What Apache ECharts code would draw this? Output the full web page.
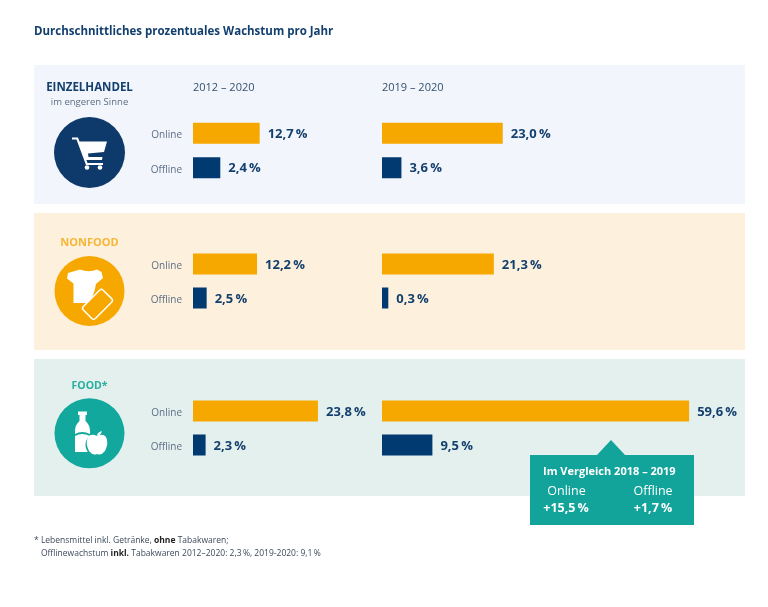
<!DOCTYPE html>
<html><head><meta charset="utf-8">
<style>html,body{margin:0;padding:0;background:#fff}#c{width:768px;height:607px}</style>
<script src="https://cdn.jsdelivr.net/npm/echarts@6/dist/echarts.min.js"></script>
</head><body><div id="c"></div>
<script>
const categories = ['Online', 'Offline'];
const periods = ['2012 – 2020', '2019 – 2020'];
const segments = ['EINZELHANDEL', 'NONFOOD', 'FOOD*'];
// Printed percentages
const labelsEinzelhandel = [['12,7\u2009%', '2,4\u2009%'], ['23,0\u2009%', '3,6\u2009%']];
const labelsNonfood = [['12,2\u2009%', '2,5\u2009%'], ['21,3\u2009%', '0,3\u2009%']];
const labelsFood = [['23,8\u2009%', '2,3\u2009%'], ['59,6\u2009%', '9,5\u2009%']];
// Bar lengths as drawn in the picture (the offline bars are not all drawn to their printed value)
const barsEinzelhandel = [[12.7, 5.2], [23.0, 3.7]];
const barsNonfood = [[12.2, 2.6], [21.3, 1.2]];
const barsFood = [[23.8, 2.4], [58.5, 9.6]];

const NAVY = '#003a70', ORANGE = '#f6a800', TEAL = '#12a49b', INK = '#14406e', GREY = '#5d6f86';
const FONT = '"Open Sans","Noto Sans",sans-serif';
const PX_PER_UNIT = 5.25, AXIS_MAX = 62;
const columns = [193, 382];
const rowTops = [116, 247, 394];
const rowHeights = [69, 68, 68];
const allBars = [barsEinzelhandel, barsNonfood, barsFood];
const allLabels = [labelsEinzelhandel, labelsNonfood, labelsFood];

const grid = [], xAxis = [], yAxis = [], series = [];
rowTops.forEach((top, r) => columns.forEach((left, c) => {
  const i = grid.length;
  grid.push({ left, top, width: AXIS_MAX * PX_PER_UNIT, height: rowHeights[r] });
  xAxis.push({ gridIndex: i, type: 'value', min: 0, max: AXIS_MAX, show: false });
  yAxis.push({
    gridIndex: i, type: 'category', inverse: true, data: categories, z: 4,
    axisLine: { show: false }, axisTick: { show: false },
    axisLabel: {
      show: c === 0, margin: 11, formatter: '{a|{value}}',
      rich: { a: { fontSize: 10, color: GREY, fontFamily: FONT, padding: [4, 0, 0, 0] } }
    }
  });
  series.push({
    type: 'bar', xAxisIndex: i, yAxisIndex: i, barWidth: 21, silent: true,
    data: allBars[r][c].map((v, k) => ({ value: v, itemStyle: { color: k === 0 ? ORANGE : NAVY } })),
    label: {
      show: true, position: 'right', distance: 8, offset: [0, 1], color: INK, fontFamily: FONT,
      fontWeight: 'bold', fontSize: 13,
      formatter: p => allLabels[r][c][p.dataIndex]
    }
  });
}));

const txt = (x, y, text, o = {}) => ({
  type: 'text', x, y: y + 1, z: 8,
  style: Object.assign({ text, fill: INK, fontFamily: FONT, fontSize: 11, verticalAlign: 'middle' }, o)
});
const rect = (x, y, width, height, fill, z = 1) => ({ type: 'rect', z, shape: { x, y, width, height }, style: { fill } });
const circle = (cx, cy, r, fill, z = 2) => ({ type: 'circle', z, shape: { cx, cy, r }, style: { fill } });
let shapeCount = 0;
const path = (d, style, z = 3) => {
  const name = 'iconShape' + (shapeCount++);
  echarts.graphic.registerShape(name, echarts.graphic.extendPath(d, {}));
  return { type: name, z, style };
};
const W = '#fff';

const graphic = [
  rect(34, 65, 711, 139, '#f2f5fb'),
  rect(34, 213, 711, 137, '#fdf0dc'),
  rect(34, 359, 711, 137, '#e4f0ee'),
  txt(34, 31, 'Durchschnittliches prozentuales Wachstum pro Jahr', { fontSize: 11.5, fontWeight: 'bold', fill: '#123f6d' }),
  txt(193, 86.5, periods[0], { fontSize: 11, fill: '#33506f' }),
  txt(382, 86.5, periods[1], { fontSize: 11, fill: '#33506f' }),
  txt(89.5, 86.5, segments[0], { fontSize: 11.5, fontWeight: 'bold', align: 'center' }),
  txt(89.5, 101.5, 'im engeren Sinne', { fontSize: 9.5, fill: GREY, align: 'center' }),
  txt(89.5, 241.5, segments[1], { fontSize: 11, fontWeight: 'bold', fill: '#f5b638', align: 'center' }),
  txt(89.5, 385.5, segments[2], { fontSize: 10.5, fontWeight: 'bold', fill: '#2aae9f', align: 'center' }),

  // Cart icon
  circle(89.5, 152.5, 35.5, '#0e3a6b'),
  path('M72 137.5 L78 137.5 L87.5 163 L103 163 L103 165 L86 165 L76.5 139.5 L72 139.5 Z', { fill: W }),
  path('M79 141.5 L107 141.5 L104 152 L88 153.5 L88.5 157 L102.5 157 L102 160 L85 160 Z', { fill: W }),
  circle(87, 167.5, 2.3, W, 3),
  circle(100, 167.5, 2.3, W, 3),

  // Shirt + phone icon
  circle(89.5, 291, 35, ORANGE),
  path('M80 269.5 Q89 273 97 269.5 L101.5 272 L103 278 L96 284 L94.5 291 L90 303 L73.5 303 L73.5 283.5 L67 278.5 L68 273 Z', { fill: W }),
  { type: 'rect', z: 3, x: 97.5, y: 304.3, rotation: -Math.PI / 4,
    shape: { x: -8.5, y: -14, width: 17, height: 28, r: 2.5 }, style: { fill: ORANGE, stroke: W, lineWidth: 1.5 } },

  // Bottle + apple icon
  circle(89.5, 433.3, 35, '#13a89e'),
  path('M78 411.5 L87 411.5 L87 415 L85.5 415 L85.5 421 Q90 425 90 431 L90 452 L75 452 L75 431 Q75 425 79.5 421 L79.5 415 L78 415 Z', { fill: W }),
  path('M75 434 Q82 430 90 434 L90 436 Q82 432 75 436 Z', { fill: '#13a89e' }),
  circle(97, 445, 11.5, '#13a89e', 3),
  path('M97 436 Q103 433 106 437 Q109 443 105 451 Q101 456 97 454 Q93 456 89 451 Q85 443 88 437 Q91 433 97 436 Z', { fill: W }),
  path('M97 435 Q98 432 102 431 Q101 435 97 436 Z', { fill: W }),

  // Comparison callout
  path('M530 455 L597 455 L611 440 L625 455 L694 455 L694 525 L530 525 Z', { fill: TEAL }, 6),
  txt(543, 470.5, 'Im Vergleich 2018 – 2019', { fontSize: 11, fontWeight: 'bold', fill: W }),
  txt(566.5, 490, 'Online', { fontSize: 12.5, fill: W, align: 'center' }),
  txt(653, 490, 'Offline', { fontSize: 12.5, fill: W, align: 'center' }),
  txt(566, 507, '+15,5\u2009%', { fontSize: 12.5, fontWeight: 'bold', fill: W, align: 'center' }),
  txt(653, 507, '+1,7\u2009%', { fontSize: 12.5, fontWeight: 'bold', fill: W, align: 'center' }),

  // Footnote
  txt(34, 540, '* Lebensmittel inkl. Getränke, {b|ohne} Tabakwaren;', {
    fontSize: 8.5, fill: '#3c4a5c', rich: { b: { fontWeight: 'bold', fontSize: 8.5, fontFamily: FONT, fill: '#222' } }
  }),
  txt(41, 553, 'Offlinewachstum {b|inkl.} Tabakwaren 2012–2020: 2,3\u2009%, 2019-2020: 9,1\u2009%', {
    fontSize: 8.5, fill: '#3c4a5c', rich: { b: { fontWeight: 'bold', fontSize: 8.5, fontFamily: FONT, fill: '#222' } }
  })
];

echarts.init(document.getElementById('c'), null, { renderer: 'canvas' }).setOption({
  animation: false, backgroundColor: '#fff', grid, xAxis, yAxis, series, graphic
});
</script></body></html>
